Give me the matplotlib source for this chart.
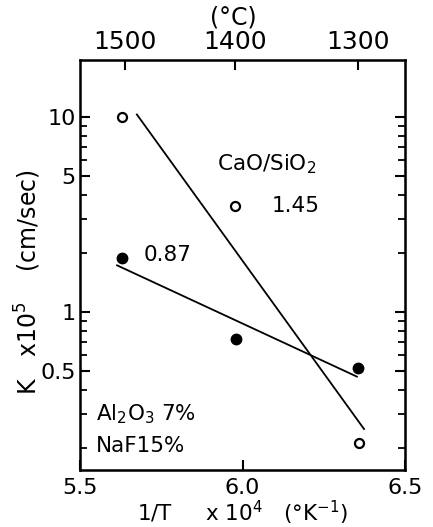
import numpy as np
import matplotlib

matplotlib.use("Agg")
import matplotlib.pyplot as plt
from matplotlib.ticker import LogLocator, NullFormatter

plt.rcParams["font.family"] = ["DejaVu Sans"]
plt.rcParams["mathtext.fontset"] = "dejavusans"

# Data: 1/T x 10^4 (K^-1) vs K x 10^5 (cm/sec)
invT_145 = [5.629, 5.977, 6.358]
k_145 = [10.0, 3.5, 0.213]
invT_087 = [5.630, 5.980, 6.355]
k_087 = [1.89, 0.727, 0.516]

# x extent of the drawn regression lines
line_range_145 = [5.675, 6.374]
line_range_087 = [5.614, 6.352]

x_ticks = [5.5, 6.0, 6.5]
x_ticklabels = ["5.5", "6.0", "6.5"]
y_ticks = [0.5, 1, 5, 10]
y_ticklabels = ["0.5", "1", "5", "10"]
celsius_ticks = [1500, 1400, 1300]

fig = plt.figure(figsize=(4.33, 5.27), dpi=100)
ax = fig.add_axes([0.1848, 0.1082, 0.7505, 0.7779])

# Regression lines in log space
for xs, ys, xr in [
    (invT_145, k_145, line_range_145),
    (invT_087, k_087, line_range_087),
]:
    slope, icpt = np.polyfit(xs, np.log10(ys), 1)
    xr = np.array(xr)
    ax.plot(xr, 10 ** (slope * xr + icpt), color="black", lw=1.3, zorder=3)

ax.plot(
    invT_145, k_145, "o", mfc="white", mec="black", mew=1.6, ms=6.5,
    ls="none", zorder=4,
)
ax.plot(invT_087, k_087, "o", color="black", ms=7.5, ls="none", zorder=4)

ax.set_yscale("log")
ax.set_xlim(5.5, 6.5)
ax.set_ylim(0.155, 19.6)

ax.set_xticks(x_ticks)
ax.set_xticklabels(x_ticklabels, fontsize=16)
ax.set_yticks(y_ticks)
ax.set_yticklabels(y_ticklabels, fontsize=16)
ax.yaxis.set_minor_locator(LogLocator(base=10, subs=np.arange(2, 10)))
ax.yaxis.set_minor_formatter(NullFormatter())
ax.tick_params(axis="both", which="major", direction="in", length=7, width=1.5,
               pad=6)
ax.tick_params(axis="y", which="minor", direction="in", length=5, width=1.3)
ax.tick_params(axis="y", which="both", right=True)
ax.tick_params(axis="x", which="both", top=False)
ax.tick_params(axis="y", which="major", pad=3)

for s in ax.spines.values():
    s.set_linewidth(1.8)

# Top axis in degrees Celsius
ax2 = ax.twiny()
ax2.set_xlim(ax.get_xlim())
ax2.set_xticks([1e4 / (c + 273.15) for c in celsius_ticks])
ax2.set_xticklabels([str(c) for c in celsius_ticks], fontsize=18)
ax2.tick_params(axis="x", direction="in", length=7, width=1.5, pad=4)
fig.text(0.538, 0.967, "(°C)", fontsize=17, ha="center", va="center")

ax.set_xlabel("1/T     x 10$^4$   (°K$^{-1}$)", fontsize=15.5, labelpad=0)
fig.text(0.065, 0.465, "K   x10$^5$    (cm/sec)", fontsize=17, rotation=90,
         ha="center", va="center")

# Annotations
ax.text(5.695, 1.95, "0.87", fontsize=15.5, ha="left", va="center")
ax.text(5.92, 5.7, "CaO/SiO$_2$", fontsize=15.5, ha="left", va="center")
ax.text(6.09, 3.5, "1.45", fontsize=15.5, ha="left", va="center")
ax.text(5.55, 0.3, "Al$_2$O$_3$ 7%", fontsize=15.5, ha="left", va="center")
ax.text(5.55, 0.205, "NaF15%", fontsize=15.5, ha="left", va="center")

plt.savefig("out.png", dpi=100)
